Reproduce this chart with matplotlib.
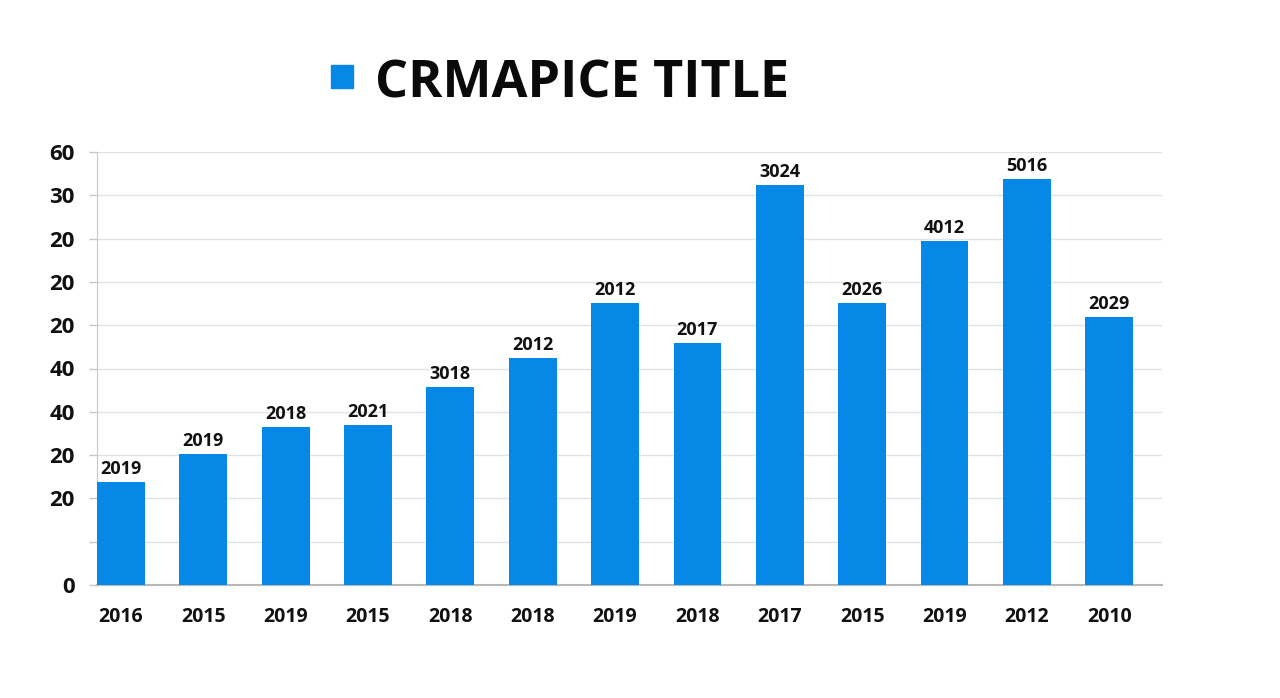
import matplotlib
matplotlib.use("Agg")
import matplotlib.pyplot as plt
from matplotlib.patches import Rectangle

categories = ["2016", "2015", "2019", "2015", "2018", "2018", "2019",
              "2018", "2017", "2015", "2019", "2012", "2010"]
values = [2.38, 3.03, 3.65, 3.70, 4.57, 5.24, 6.51, 5.59, 9.24, 6.51, 7.94, 9.38, 6.19]
bar_labels = ["2019", "2019", "2018", "2021", "3018", "2012", "2012",
              "2017", "3024", "2026", "4012", "5016", "2029"]
y_tick_labels = ["0", "", "20", "20", "40", "40", "20", "20", "20", "30", "60"]
title = "CRMAPICE TITLE"

plt.rcParams['font.family'] = ['Open Sans', 'DejaVu Sans']

W, H = 1280, 698
fig = plt.figure(figsize=(W / 100, H / 100), dpi=100)
ax = fig.add_axes([97 / W, 1 - 585 / H, (1162 - 97) / W, (585 - 152) / H])

color = "#0688e6"
x = list(range(len(categories)))
ax.bar(x, values, width=0.58, color=color, zorder=3)
for xi, v, lab in zip(x, values, bar_labels):
    ax.annotate(lab, (xi, v), xytext=(0, 3), textcoords="offset points",
                ha="center", va="bottom", fontsize=13, fontweight="bold",
                color="#111111", zorder=4)

ax.set_xlim(-0.29, 12.64)
ax.set_ylim(0, 10)
ax.set_yticks(range(len(y_tick_labels)))
ax.set_yticklabels(y_tick_labels)
ax.set_xticks(x)
ax.set_xticklabels(categories)

ax.grid(axis="y", color="#dfe4e8", linewidth=1, zorder=0)
ax.tick_params(axis="y", length=6, color="#c8c8c8", width=1, pad=10,
               labelsize=16, direction="out")
ax.tick_params(axis="x", length=0, pad=16, labelsize=14)
for lab in ax.get_yticklabels() + ax.get_xticklabels():
    lab.set_fontweight("bold")
    lab.set_color("#111111")

for s in ["top", "right"]:
    ax.spines[s].set_visible(False)
ax.spines["left"].set_color("#c8c8c8")
ax.spines["bottom"].set_color("#b8b8b8")
ax.spines["bottom"].set_linewidth(1.5)

# title with legend square
fig.patches.append(Rectangle((331 / W, 1 - 88 / H), 22 / W, 23 / H,
                             transform=fig.transFigure, color=color))
fig.text(375 / W, 1 - 97 / H, title, fontsize=37.5, fontweight="bold",
         color="#0a0a0a", ha="left", va="baseline")

fig.savefig("out.png", dpi=100)
